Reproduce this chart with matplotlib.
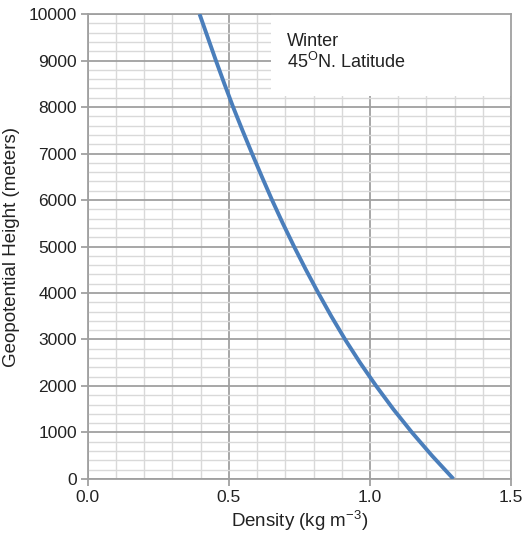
import matplotlib
matplotlib.use("Agg")
import matplotlib.pyplot as plt
from matplotlib.patches import Rectangle
from matplotlib.ticker import MultipleLocator, FormatStrFormatter

plt.rcParams['font.family'] = ['Liberation Sans', 'DejaVu Sans']
plt.rcParams['mathtext.fontset'] = 'custom'
plt.rcParams['mathtext.rm'] = 'Liberation Sans'

# density profile, winter 45N (read every 500 m)
height = [0, 500, 1000, 1500, 2000, 2500, 3000, 3500, 4000, 4500, 5000,
          5500, 6000, 6500, 7000, 7500, 8000, 8500, 9000, 9500, 10000]
density = [1.296, 1.220, 1.149, 1.083, 1.022, 0.965, 0.912, 0.863, 0.817, 0.773, 0.731,
           0.691, 0.653, 0.617, 0.582, 0.548, 0.515, 0.484, 0.454, 0.425, 0.396]

major_c = '#a0a0a0'
minor_c = '#d9d9d9'

fig = plt.figure(figsize=(5.23, 5.43), dpi=100)
ax = fig.add_axes([0.168, 0.118, 0.809, 0.856])

ax.plot(density, height, color='#4a7ebb', lw=2.8, zorder=3,
        solid_capstyle='butt', solid_joinstyle='round')

ax.set_xlim(0, 1.5)
ax.set_ylim(0, 10000)
ax.xaxis.set_major_locator(MultipleLocator(0.5))
ax.xaxis.set_minor_locator(MultipleLocator(0.1))
ax.yaxis.set_major_locator(MultipleLocator(1000))
ax.yaxis.set_minor_locator(MultipleLocator(200))
ax.xaxis.set_major_formatter(FormatStrFormatter('%.1f'))

ax.set_axisbelow(True)
ax.grid(which='minor', color=minor_c, lw=1.0)
ax.grid(which='major', color=major_c, lw=1.3)

for s in ax.spines.values():
    s.set_color(major_c)
    s.set_linewidth(1.3)

ax.tick_params(which='major', direction='out', length=5, color=major_c,
               width=1.3, labelsize=12.5, labelcolor='#222222', pad=3)
ax.tick_params(which='minor', length=0)

# white label box in the upper right
box = Rectangle((0.65, 8236), 0.85, 1764, facecolor='white', edgecolor='none', zorder=2)
ax.add_patch(box)
ax.text(0.707, 9600, 'Winter\n45$^{\\mathrm{O}}$N. Latitude', fontsize=13,
        color='#222222', va='top', ha='left', linespacing=1.15, zorder=4)

ax.set_xlabel('Density (kg m$^{\\mathrm{-3}}$)', fontsize=13.5, color='#222222', labelpad=2)
ax.set_ylabel('Geopotential Height (meters)', fontsize=13.5, color='#222222', labelpad=6)

fig.savefig('out.png', dpi=100)
